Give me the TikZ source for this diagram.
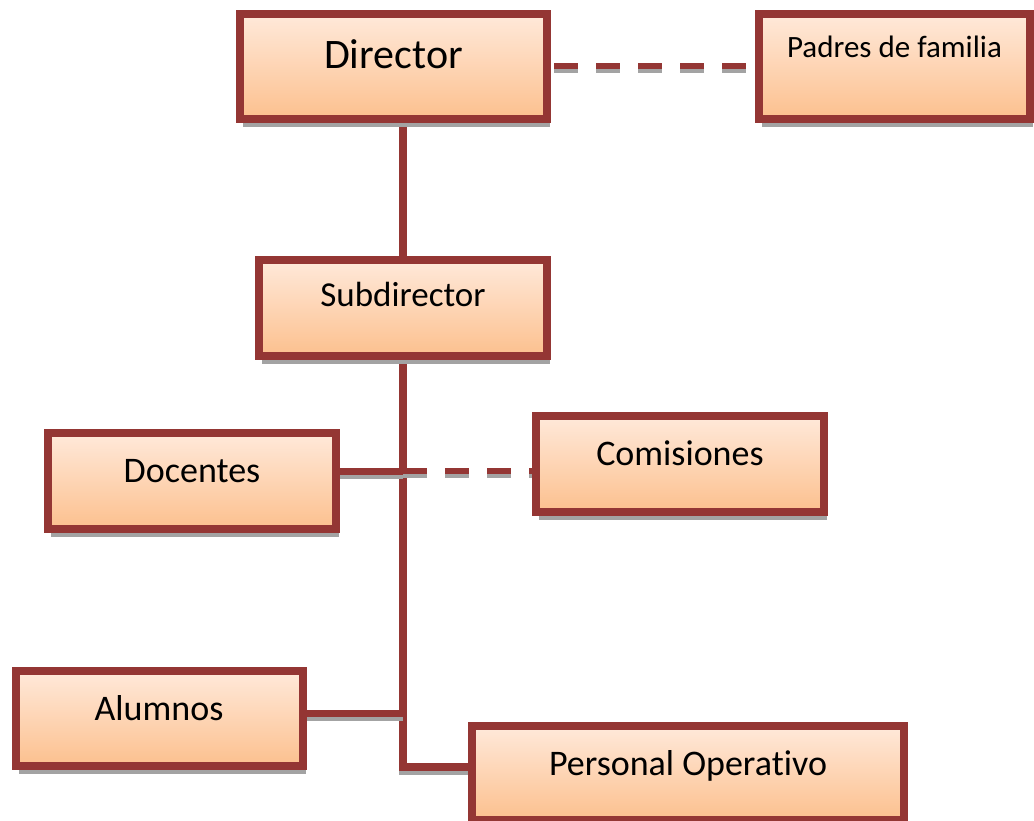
\documentclass[tikz,border=0pt]{standalone}
\usepackage{fontspec}
\setmainfont{Carlito}[Ligatures=NoCommon]
\usepackage{xcolor}
\usepackage{tikz}
\usetikzlibrary{shadows,calc,positioning}

\definecolor{boxred}{HTML}{943634}
\definecolor{peachtop}{HTML}{FFE9DA}
\definecolor{peachbot}{HTML}{FCC08E}
\definecolor{shadowgray}{HTML}{A3A3A3}

\pgfdeclarelayer{background}
\pgfsetlayers{background,main}

\tikzset{
    orgbox/.style={
        draw=boxred,
        line width=8pt,
        top color=peachtop,
        bottom color=peachbot,
        drop shadow={shadow xshift=3pt, shadow yshift=-8pt, fill=shadowgray, opacity=1},
        inner sep=0pt,
        text height=4pt,
        text depth=0pt,
        font=\fontsize{36}{40}\selectfont
    },
    link/.style={
        draw=boxred,
        line width=7.5pt
    },
    dashlink/.style={
        draw=boxred,
        line width=6pt,
        dash pattern=on 24pt off 18pt
    }
}

% connector with its grey shadow below
\newcommand{\orgline}[2]{%
    \draw[#1, draw=shadowgray, transform canvas={yshift=-4pt}] #2;
    \draw[#1] #2;
}

\begin{document}
\begin{tikzpicture}[x=1pt,y=1pt]
    \useasboundingbox (0,0) rectangle (1034,820);

    \node[orgbox, minimum width=307pt, minimum height=105pt,
          font=\fontsize{42}{48}\selectfont] (dir) at (393.5,753.5) {Director};
    \node[orgbox, minimum width=271pt, minimum height=105pt,
          font=\fontsize{31}{36}\selectfont, text height=0pt, text depth=17pt] (pad) at (894.5,753.5) {Padres de familia};
    \node[orgbox, minimum width=288.5pt, minimum height=96pt,
          font=\fontsize{35}{40}\selectfont, text height=0pt, text depth=2pt] (sub) at (403,512) {Subdirector};
    \node[orgbox, minimum width=288.5pt, minimum height=96pt] (doc) at (192,339) {Docentes};
    \node[orgbox, minimum width=287.5pt, minimum height=96pt] (com) at (680,356) {Comisiones};
    \node[orgbox, minimum width=287pt, minimum height=95pt] (alu) at (159,101.5) {Alumnos};
    \node[orgbox, minimum width=431.5pt, minimum height=94pt] (po) at (688,47) {Personal Operativo};

    \coordinate (docj) at ($(doc.east)+(0,9.5)$);
    \coordinate (aluj) at ($(alu.east)+(0,5)$);
    \coordinate (poj) at ($(po.west)+(0,6)$);

    \begin{pgfonlayer}{background}
        \orgline{dashlink, dash phase=39pt}{(dir.east) -- (dir.east -| pad.west)}
        \orgline{link}{(dir.south -| sub.north) -- (sub.north)}
        \orgline{link}{(sub.south) |- (poj)}
        \orgline{link}{(docj) -- (docj -| sub.south)}
        \orgline{dashlink}{(docj -| sub.south) -- (docj -| com.west)}
        \orgline{link}{(aluj) -- (aluj -| sub.south)}
    \end{pgfonlayer}
\end{tikzpicture}
\end{document}
